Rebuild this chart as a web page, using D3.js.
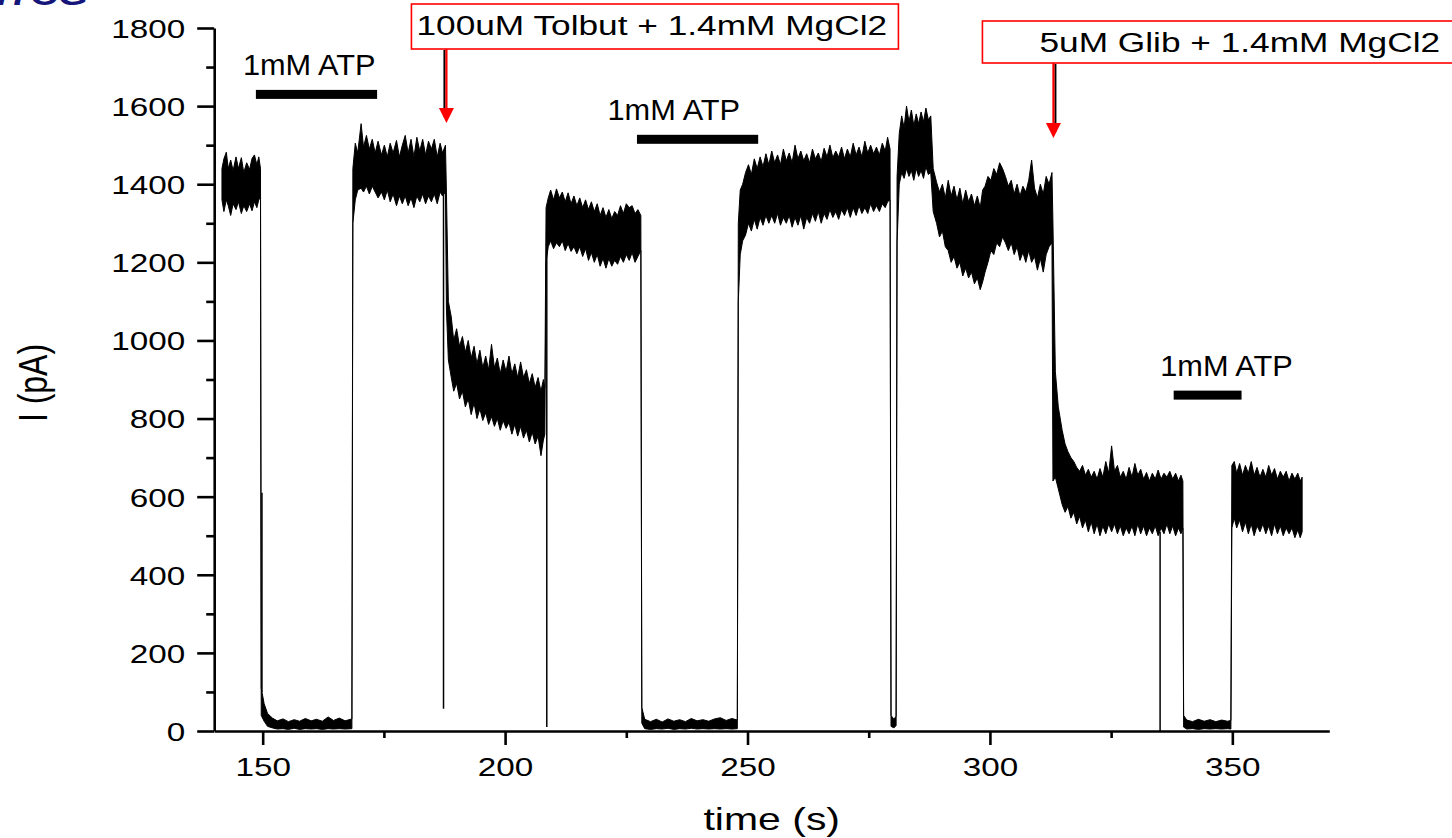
<!DOCTYPE html>
<html>
<head>
<meta charset="utf-8">
<script src="https://cdn.jsdelivr.net/npm/d3@7"></script>
<style>
  html, body { margin: 0; padding: 0; background: #fff; }
  svg { display: block; }
</style>
</head>
<body>
<svg id="chart" width="1452" height="838"></svg>
<script>
// trace: [time (s), lower edge (pA), upper edge (pA)]
const baseline1 = [
  [141.6, 1360, 1440], [142.0, 1330, 1465], [142.5, 1360, 1482], [142.9, 1345, 1440],
  [143.4, 1320, 1462], [143.9, 1350, 1435], [144.5, 1335, 1470], [145.0, 1355, 1440],
  [145.6, 1325, 1468], [146.1, 1345, 1430], [146.7, 1330, 1455], [147.3, 1350, 1438],
  [147.8, 1332, 1466], [148.3, 1355, 1475], [148.8, 1340, 1450], [149.2, 1360, 1470],
  [149.55, 1365, 1440],
];
const atpBlock1 = [
  [149.7, 40, 110], [150.3, 25, 70], [151.0, 12, 45], [152.0, 8, 33], [153.0, 5, 26],
  [154.2, 6, 31], [155.3, 4, 24], [156.5, 7, 29], [157.6, 4, 25], [158.8, 6, 32],
  [160.0, 5, 26], [161.1, 6, 30], [162.3, 4, 25], [163.5, 6, 36], [164.6, 5, 27],
  [165.8, 6, 33], [167.0, 5, 26], [168.4, 6, 31],
];
const recovery1 = [
  [168.6, 1300, 1440], [169.1, 1360, 1505], [169.6, 1385, 1480], [170.3, 1390, 1555],
  [170.8, 1380, 1495], [171.4, 1395, 1525], [172.0, 1375, 1490], [172.6, 1395, 1515],
  [173.2, 1380, 1480], [173.8, 1365, 1510], [174.5, 1380, 1475], [175.1, 1360, 1500],
  [175.7, 1385, 1470], [176.3, 1355, 1505], [176.9, 1375, 1480], [177.6, 1345, 1512],
  [178.2, 1370, 1470], [178.8, 1350, 1500], [179.4, 1370, 1525], [180.0, 1345, 1480],
  [180.6, 1365, 1515], [181.2, 1340, 1470], [181.8, 1370, 1520], [182.4, 1355, 1485],
  [183.0, 1375, 1515], [183.6, 1350, 1475], [184.2, 1370, 1510], [184.8, 1355, 1490],
  [185.4, 1375, 1515], [186.0, 1350, 1470], [186.6, 1380, 1505], [187.1, 1370, 1480],
  [187.7, 1380, 1500],
];
const tolbutamide = [
  [187.9, 1080, 1380], [188.3, 950, 1100], [188.9, 905, 1060], [189.4, 870, 1000],
  [190.0, 890, 1030], [190.6, 850, 985], [191.2, 870, 1010], [191.8, 830, 970],
  [192.4, 850, 1000], [193.0, 810, 955], [193.6, 840, 985], [194.2, 800, 940],
  [194.8, 825, 975], [195.4, 795, 930], [196.0, 815, 960], [196.6, 785, 925],
  [197.2, 805, 990], [197.8, 780, 930], [198.4, 800, 955], [199.0, 770, 915],
  [199.6, 795, 950], [200.2, 775, 920], [200.8, 790, 960], [201.4, 760, 915],
  [202.0, 785, 940], [202.6, 755, 905], [203.2, 780, 945], [203.8, 750, 905],
  [204.4, 770, 925], [205.0, 740, 890], [205.6, 765, 915], [206.2, 735, 880],
  [206.8, 755, 905], [207.4, 705, 870], [207.9, 745, 900], [208.2, 760, 880],
];
const washout1 = [
  [208.45, 1200, 1340], [208.9, 1240, 1365], [209.4, 1255, 1385], [210.0, 1235, 1360],
  [210.6, 1250, 1388], [211.2, 1240, 1365], [211.8, 1255, 1380], [212.4, 1230, 1355],
  [213.0, 1248, 1378], [213.6, 1228, 1350], [214.2, 1240, 1370], [214.8, 1222, 1345],
  [215.4, 1240, 1365], [216.0, 1215, 1340], [216.6, 1235, 1360], [217.2, 1205, 1335],
  [217.8, 1225, 1355], [218.4, 1200, 1330], [219.0, 1220, 1350], [219.6, 1190, 1320],
  [220.2, 1210, 1340], [220.8, 1185, 1315], [221.4, 1210, 1335], [222.0, 1190, 1312],
  [222.6, 1205, 1330], [223.2, 1195, 1320], [223.8, 1215, 1345], [224.4, 1200, 1325],
  [225.0, 1220, 1350], [225.6, 1205, 1340], [226.2, 1225, 1345], [226.8, 1200, 1325],
  [227.4, 1215, 1335], [228.0, 1230, 1320],
];
const atpBlock2 = [
  [228.2, 20, 60], [228.8, 6, 30], [230.0, 4, 24], [231.2, 6, 30], [232.4, 5, 23],
  [233.6, 7, 31], [234.8, 4, 25], [236.0, 6, 29], [237.2, 5, 24], [238.4, 7, 32],
  [239.6, 5, 26], [240.8, 6, 29], [242.0, 5, 25], [243.2, 6, 31], [244.4, 5, 34],
  [245.6, 6, 27], [246.8, 5, 32], [247.9, 6, 28],
];
const recovery2 = [
  [248.1, 1100, 1300], [248.5, 1220, 1385], [249.0, 1255, 1400], [249.6, 1270, 1430],
  [250.2, 1300, 1450], [250.8, 1280, 1425], [251.4, 1310, 1465], [252.0, 1285, 1440],
  [252.6, 1315, 1470], [253.2, 1295, 1445], [253.8, 1320, 1478], [254.4, 1300, 1450],
  [255.0, 1320, 1485], [255.6, 1300, 1455], [256.2, 1325, 1475], [256.8, 1295, 1450],
  [257.4, 1315, 1490], [258.0, 1300, 1460], [258.6, 1320, 1480], [259.2, 1290, 1455],
  [259.8, 1315, 1500], [260.4, 1295, 1465], [261.0, 1320, 1485], [261.6, 1285, 1460],
  [262.2, 1315, 1478], [262.8, 1300, 1455], [263.4, 1325, 1490], [264.0, 1305, 1465],
  [264.6, 1330, 1480], [265.2, 1300, 1458], [265.8, 1325, 1492], [266.4, 1310, 1470],
  [267.0, 1335, 1500], [267.6, 1315, 1468], [268.2, 1330, 1485], [268.8, 1310, 1470],
  [269.4, 1335, 1495], [270.0, 1320, 1465], [270.6, 1340, 1490], [271.2, 1315, 1470],
  [271.8, 1340, 1505], [272.4, 1320, 1475], [273.0, 1345, 1495], [273.6, 1325, 1470],
  [274.2, 1340, 1510], [274.8, 1325, 1480], [275.4, 1350, 1500], [276.0, 1330, 1478],
  [276.6, 1345, 1495], [277.2, 1330, 1475], [277.8, 1350, 1505], [278.4, 1340, 1485],
  [278.9, 1355, 1520], [279.4, 1360, 1490],
  // short closure
  [279.6, 12, 40], [280.2, 8, 30], [280.65, 14, 38],
];
const recovery3 = [
  [280.85, 1250, 1420], [281.3, 1400, 1530], [281.8, 1430, 1575], [282.3, 1415, 1545],
  [282.8, 1440, 1600], [283.3, 1420, 1560], [283.8, 1435, 1590], [284.3, 1410, 1550],
  [284.8, 1440, 1580], [285.3, 1420, 1555], [285.8, 1435, 1585], [286.3, 1415, 1560],
  [286.8, 1445, 1595], [287.3, 1425, 1565], [287.8, 1430, 1575], [288.3, 1330, 1440],
  [289.0, 1300, 1405], [289.6, 1265, 1380], [290.2, 1280, 1400], [290.8, 1240, 1365],
  [291.4, 1230, 1410], [292.0, 1200, 1370], [292.6, 1215, 1395], [293.2, 1185, 1360],
  [293.8, 1200, 1390], [294.4, 1165, 1350], [295.0, 1185, 1385], [295.6, 1160, 1355],
  [296.2, 1175, 1375], [296.8, 1145, 1345], [297.4, 1160, 1370], [298.0, 1130, 1340],
  [298.5, 1150, 1385], [299.0, 1175, 1395], [299.6, 1200, 1420], [300.2, 1230, 1410],
  [300.8, 1220, 1440], [301.4, 1250, 1425], [302.0, 1240, 1455], [302.6, 1265, 1440],
  [303.2, 1250, 1420], [303.8, 1230, 1395], [304.4, 1250, 1410], [305.0, 1220, 1375],
  [305.6, 1240, 1400], [306.2, 1205, 1370], [306.8, 1225, 1395], [307.4, 1200, 1380],
  [308.0, 1230, 1410], [308.6, 1200, 1462], [309.2, 1215, 1390], [309.8, 1180, 1365],
  [310.4, 1210, 1400], [311.0, 1175, 1375], [311.6, 1220, 1420], [312.2, 1240, 1400],
  [312.8, 1250, 1430],
];
const glibenclamide = [
  [313.0, 640, 1300], [313.5, 650, 920], [314.1, 620, 830], [314.9, 580, 770],
  [315.5, 560, 735], [316.1, 575, 715], [316.7, 545, 700], [317.3, 560, 690],
  [317.9, 530, 675], [318.5, 550, 665], [319.1, 520, 680], [319.7, 540, 655],
  [320.3, 510, 670], [320.9, 535, 650], [321.5, 505, 665], [322.1, 530, 645],
  [322.7, 500, 672], [323.3, 525, 650], [323.9, 505, 690], [324.5, 530, 660],
  [325.1, 510, 730], [325.7, 530, 665], [326.3, 505, 680], [326.9, 525, 650],
  [327.5, 500, 665], [328.1, 520, 645], [328.7, 505, 675], [329.3, 525, 650],
  [329.9, 500, 685], [330.5, 530, 655], [331.1, 505, 670], [331.7, 525, 645],
  [332.3, 500, 662], [332.9, 520, 640], [333.5, 505, 660], [334.1, 525, 645],
  [334.7, 500, 668], [335.3, 520, 645], [335.9, 505, 660], [336.5, 530, 650],
  [337.1, 505, 665], [337.7, 525, 645], [338.3, 500, 660], [338.9, 520, 640],
  [339.4, 505, 655], [339.8, 520, 640],
];
const atpBlock3 = [
  [339.95, 10, 40], [340.6, 5, 28], [341.8, 6, 24], [343.0, 4, 30], [344.2, 6, 25],
  [345.4, 5, 29], [346.6, 6, 24], [347.8, 5, 28], [349.0, 6, 25], [349.7, 5, 27],
];
const glibWash = [
  [349.9, 520, 680], [350.4, 545, 690], [350.9, 520, 660], [351.5, 540, 685],
  [352.1, 510, 655], [352.7, 535, 680], [353.3, 505, 660], [353.9, 530, 690],
  [354.5, 500, 655], [355.1, 525, 675], [355.7, 510, 650], [356.3, 530, 670],
  [356.9, 505, 650], [357.5, 525, 680], [358.1, 500, 655], [358.7, 530, 672],
  [359.3, 505, 645], [359.9, 525, 665], [360.5, 500, 650], [361.1, 520, 665],
  [361.7, 505, 640], [362.3, 520, 660], [362.9, 495, 645], [363.5, 515, 660],
  [364.0, 495, 640], [364.4, 510, 650],
];

// brief single-sample excursions: [time, from pA, to pA]
const spikes = [
  [149.85, 100, 610],
  [187.3, 1400, 57],
  [208.6, 1250, 10],
  [335.1, 510, 0],
];

// 1mM ATP applications: [start, end, label centre time, bar level pA]
const atpApplications = [
  [148.6, 173.6, 159.6, 1630],
  [227.2, 252.2, 234.8, 1515],
  [337.9, 351.9, 348.8, 860],
];

const drugLabels = ["100uM Tolbut + 1.4mM MgCl2", "5uM Glib + 1.4mM MgCl2"];
const drugTimes = [187.9, 313.1];

const xTicks = [150, 200, 250, 300, 350];
const xMinorTicks = [175, 225, 275, 325];
const yTicks = [0, 200, 400, 600, 800, 1000, 1200, 1400, 1600, 1800];
const yMinorTicks = [100, 300, 500, 700, 900, 1100, 1300, 1500, 1700];

const trace = [].concat(
  baseline1, atpBlock1, recovery1, tolbutamide, washout1,
  atpBlock2, recovery2, recovery3, glibenclamide, atpBlock3, glibWash
);

// ---- layout ----
const width = 1452;
const height = 838;
const font = "'Liberation Sans', Arial, sans-serif";
const stretch = 1.28; // the figure was scaled wider than tall

// box geometry per drug annotation (pixels, relative to arrow x)
const drugLayout = [
  { boxDx: -35, boxW: 487, boxTop: 4, boxH: 45, textDx: 5, tipY: 123, shadow: -2 },
  { boxDx: -71, boxW: 520, boxTop: 21, boxH: 42, textDx: 57, tipY: 138, shadow: 2 },
];

const x = d3.scaleLinear().domain([140, 370]).range([214.2, 1329.3]);
const y = d3.scaleLinear().domain([0, 1800]).range([731, 28]);

const svg = d3.select("#chart");

svg.append("rect")
  .attr("width", width)
  .attr("height", height)
  .attr("fill", "white");

function stretchedText(g, str, px, py, size, sx, anchor) {
  return g.append("text")
    .attr("transform", `translate(${px},${py}) scale(${sx},1)`)
    .attr("font-family", font)
    .attr("font-size", size)
    .attr("text-anchor", anchor)
    .attr("fill", "black")
    .text(str);
}

// panel letter, mostly cut off at the top edge (as in the source figure)
stretchedText(svg, "/7CG", -2, 5, 30, stretch, "start")
  .attr("font-weight", "bold")
  .attr("fill", "#15157a");

// ---- axes ----
const axisLayer = svg.append("g").attr("id", "axis");

const xAxis = axisLayer.append("g")
  .attr("transform", `translate(0,${y(0)})`)
  .call(d3.axisBottom(x).tickValues(xTicks).tickSize(14).tickSizeOuter(0).tickFormat(d3.format("d")));
xAxis.append("g")
  .call(d3.axisBottom(x).tickValues(xMinorTicks).tickSize(7).tickFormat(""))
  .call((g) => g.select(".domain").remove());

xAxis.selectAll(".tick text")
  .attr("y", null)
  .attr("dy", null)
  .attr("transform", `translate(0,45) scale(${stretch},1)`);

const yAxis = axisLayer.append("g")
  .attr("transform", `translate(${x(140)},0)`)
  .call(d3.axisLeft(y).tickValues(yTicks).tickSize(17).tickSizeOuter(0).tickFormat(d3.format("d")));
yAxis.append("g")
  .call(d3.axisLeft(y).tickValues(yMinorTicks).tickSize(8).tickFormat(""))
  .call((g) => g.select(".domain").remove());

yAxis.selectAll(".tick text")
  .attr("x", null)
  .attr("dy", "0.36em")
  .attr("transform", `translate(-29,0) scale(${stretch},1)`);

axisLayer.selectAll("g")
  .attr("font-family", font)
  .attr("font-size", 26);
axisLayer.selectAll(".tick text").attr("fill", "black");
axisLayer.selectAll("line, path")
  .attr("stroke", "black")
  .attr("stroke-width", 2.6);

stretchedText(svg, "time (s)", (x(140) + x(370)) / 2, 830, 32, stretch, "middle");

svg.append("text")
  .attr("transform", `translate(47,383) scale(${stretch},1) rotate(-90)`)
  .attr("font-family", font)
  .attr("font-size", 32)
  .attr("text-anchor", "middle")
  .attr("fill", "black")
  .text("I (pA)");

// ---- trace ----
const vizLayer = svg.append("g").attr("id", "viz");

const band = d3.area()
  .x((d) => x(d[0]))
  .y0((d) => y(d[1]))
  .y1((d) => y(d[2]));

vizLayer.append("path")
  .datum(trace)
  .attr("d", band)
  .attr("fill", "black")
  .attr("stroke", "black")
  .attr("stroke-width", 1)
  .attr("stroke-linejoin", "round");

vizLayer.selectAll("line.spike")
  .data(spikes)
  .join("line")
  .attr("class", "spike")
  .attr("x1", (d) => x(d[0]))
  .attr("x2", (d) => x(d[0]))
  .attr("y1", (d) => y(d[1]))
  .attr("y2", (d) => y(d[2]))
  .attr("stroke", "black")
  .attr("stroke-width", 1.5);

// ---- ATP bars ----
const atpLayer = svg.append("g").attr("id", "atp");

atpLayer.selectAll("rect")
  .data(atpApplications)
  .join("rect")
  .attr("x", (d) => x(d[0]))
  .attr("width", (d) => x(d[1]) - x(d[0]))
  .attr("y", (d) => y(d[3]) - 4.5)
  .attr("height", 9)
  .attr("fill", "black");

atpApplications.forEach((d) => {
  stretchedText(atpLayer, "1mM ATP", x(d[2]), y(d[3]) - 19.5, 29, 1.06, "middle");
});

// ---- drug annotations ----
const drugLayer = svg.append("g").attr("id", "drugs");

drugTimes.forEach((t, i) => {
  const L = drugLayout[i];
  const ax = x(t);
  const boxBottom = L.boxTop + L.boxH;
  drugLayer.append("rect")
    .attr("x", ax + L.boxDx)
    .attr("y", L.boxTop)
    .attr("width", L.boxW)
    .attr("height", L.boxH)
    .attr("fill", "white")
    .attr("stroke", "#ff0000")
    .attr("stroke-width", 1.6);
  stretchedText(drugLayer, drugLabels[i], ax + L.boxDx + L.textDx, L.boxTop + 31, 28, 1.26, "start");
  // dark shadow next to the arrow shaft
  drugLayer.append("line")
    .attr("x1", ax + L.shadow)
    .attr("x2", ax + L.shadow)
    .attr("y1", boxBottom + 1)
    .attr("y2", L.tipY - 6)
    .attr("stroke", "black")
    .attr("stroke-width", 2);
  drugLayer.append("line")
    .attr("x1", ax)
    .attr("x2", ax)
    .attr("y1", boxBottom)
    .attr("y2", L.tipY - 12)
    .attr("stroke", "#ff0000")
    .attr("stroke-width", 2.2);
  drugLayer.append("path")
    .attr("d", `M${ax - 7.5},${L.tipY - 15}L${ax + 7.5},${L.tipY - 15}L${ax},${L.tipY}Z`)
    .attr("fill", "#ff0000");
});
</script>
</body>
</html>
